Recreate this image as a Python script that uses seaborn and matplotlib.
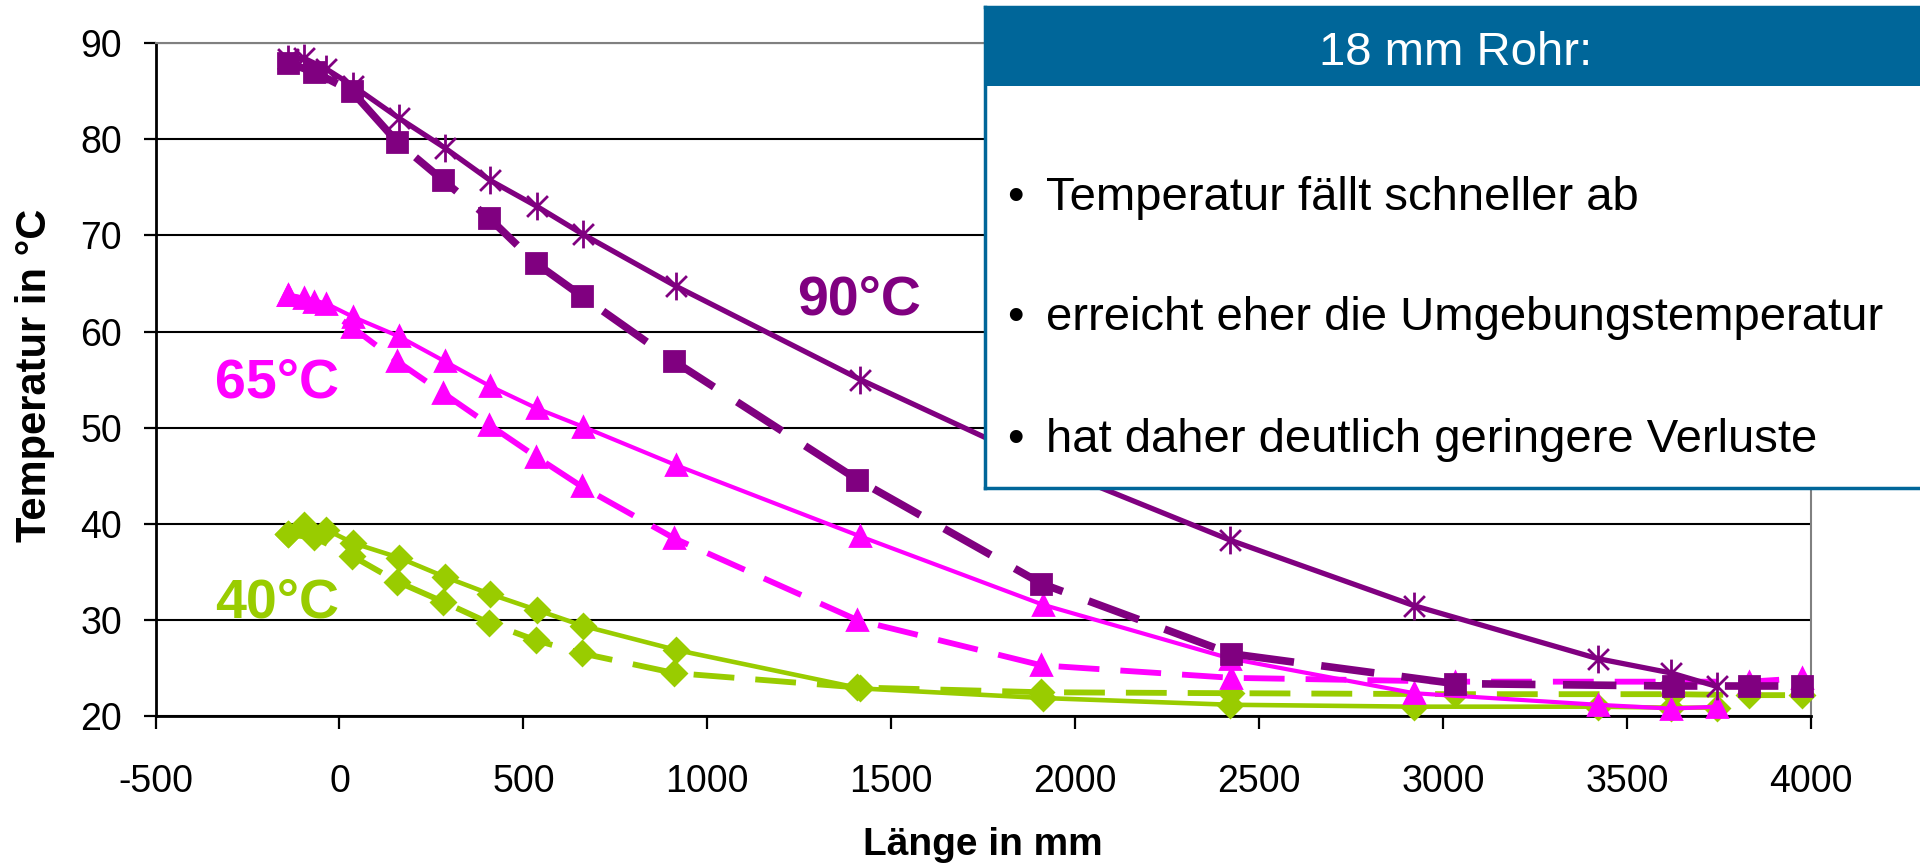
import matplotlib
matplotlib.use("Agg")
import matplotlib.pyplot as plt
from matplotlib.path import Path
from matplotlib.patches import Rectangle
import seaborn as sns

# --- DATA ---
X_SOLID = [-140, -96, -36, 38, 161, 286, 410, 537, 662, 915, 1416, 1912, 2422, 2921, 3420, 3620, 3744]
X_DASHED = [-140, -70, 33, 157, 282, 407, 534, 658, 910, 1408, 1908, 2424, 3032, 3625, 3832, 3976]

T90_SOLID = [88.3, 88.4, 87.3, 85.5, 82.2, 79.1, 75.7, 73.0, 70.1, 64.7, 55.0, 46.2, 38.3, 31.5, 26.0, 24.5, 23.1]
T65_SOLID = [63.8, 63.5, 62.9, 61.5, 59.5, 56.9, 54.3, 52.0, 50.1, 46.1, 38.7, 31.6, 26.0, 22.4, 21.2, 20.8, 21.0]
T40_SOLID = [39.0, 39.9, 39.4, 38.0, 36.5, 34.5, 32.7, 31.05, 29.4, 26.9, 22.9, 21.9, 21.2, 21.0, 21.0, 20.9, 20.9]

T90_DASHED = [87.9, 87.0, 85.0, 79.7, 75.7, 71.8, 67.1, 63.7, 56.9, 44.6, 33.8, 26.5, 23.4, 23.15, 23.15, 23.15]
T65_DASHED = [63.8, 63.1, 60.5, 56.9, 53.6, 50.3, 47.0, 43.9, 38.5, 30.0, 25.3, 24.0, 23.6, 23.6, 23.6, 23.95]
T40_DASHED = [38.9, 38.6, 36.7, 34.0, 31.9, 29.7, 27.9, 26.55, 24.5, 23.0, 22.5, 22.4, 22.3, 22.3, 22.2, 22.2]

X_TICKS = list(range(-500, 4001, 500))
Y_TICKS = list(range(20, 91, 10))

BOX_TITLE = "18 mm Rohr:"
BOX_LINES = ["Temperatur fällt schneller ab",
             "erreicht eher die Umgebungstemperatur",
             "hat daher deutlich geringere Verluste"]

PURPLE = "#800080"
MAGENTA = "#FF00FF"
GREEN = "#99CC00"
BLUE = "#006699"

W, H = 1920, 867

# asterisk marker like Excel's (x plus vertical bar)
STAR = Path([(0, -1), (0, 1), (-0.75, -0.75), (0.75, 0.75), (-0.75, 0.75), (0.75, -0.75)],
            [Path.MOVETO, Path.LINETO] * 3)
DASH = (0, (7, 3.6))

sns.set_style("ticks")
plt.rcParams['font.family'] = ['Liberation Sans', 'DejaVu Sans']
plt.rcParams['axes.unicode_minus'] = False
plt.rcParams['text.color'] = "black"

fig = plt.figure(figsize=(W / 100, H / 100), dpi=100)
ax = fig.add_axes([155.5 / W, 1 - 716.3 / H, (1811 - 155.5) / W, (716.3 - 42.9) / H])

series = [
    (X_SOLID, T40_SOLID, GREEN, "D", 12.5, "-", 3.3),
    (X_DASHED, T40_DASHED, GREEN, "D", 12.5, DASH, 4.2),
    (X_SOLID, T65_SOLID, MAGENTA, "^", 15, "-", 3.0),
    (X_DASHED, T65_DASHED, MAGENTA, "^", 15, DASH, 4.2),
    (X_SOLID, T90_SOLID, PURPLE, STAR, 20, "-", 3.8),
    (X_DASHED, T90_DASHED, PURPLE, "s", 14, DASH, 5.5),
]
for xs, ys, c, m, ms, ls, lw in series:
    sns.lineplot(x=xs, y=ys, ax=ax, color=c, marker=m, markersize=ms,
                 linestyle=ls, linewidth=lw, mec=c, mfc=c, mew=2.0,
                 sort=False, estimator=None, clip_on=False, zorder=3)

ax.set_xlim(-500, 4000)
ax.set_ylim(20, 90)
ax.set_xticks(X_TICKS)
ax.set_yticks(Y_TICKS)
ax.yaxis.grid(True, color="black", lw=1.5)
ax.set_axisbelow(True)
for s in ["left", "bottom"]:
    ax.spines[s].set_color("black")
    ax.spines[s].set_linewidth(2)
for s in ["top", "right"]:
    ax.spines[s].set_visible(True)
    ax.spines[s].set_color("#808080")
    ax.spines[s].set_linewidth(1.5)
ax.tick_params(axis="both", direction="out", length=9, width=1.6, color="black",
               labelsize=27, labelcolor="black")
ax.tick_params(axis="x", pad=25)
ax.tick_params(axis="y", pad=15)
ax.set_xlabel("")
ax.set_ylabel("")

# curve labels
ax.text(1244, 61.8, "90°C", color=PURPLE, fontsize=40, fontweight="bold", va="baseline", ha="left")
ax.text(-339, 53.1, "65°C", color=MAGENTA, fontsize=40, fontweight="bold", va="baseline", ha="left")
ax.text(-339, 30.3, "40°C", color=GREEN, fontsize=40, fontweight="bold", va="baseline", ha="left")

# axis titles
fig.text(983 / W, 1 - 855 / H, "Länge in mm", fontsize=28, fontweight="bold", ha="center",
         va="baseline", color="black")
fig.text(35 / W, 1 - 375 / H, "Temperatur in °C", fontsize=30, fontweight="bold",
         rotation=90, ha="center", va="center", color="black")

# info box
bx = fig.add_axes([985 / W, 1 - 488 / H, 945 / W, (488 - 7) / H])
bx.set_facecolor("white")
bx.set_xticks([])
bx.set_yticks([])
for s in bx.spines.values():
    s.set_color(BLUE)
    s.set_linewidth(2.5)
head_h = (86 - 7) / (488 - 7)
bx.add_patch(Rectangle((0, 1 - head_h), 1, head_h, transform=bx.transAxes, color=BLUE, lw=0))
bx.text((1456 - 985) / 945, 1 - (65 - 7) / 481, BOX_TITLE, color="white", fontsize=34,
        ha="center", va="baseline", transform=bx.transAxes)
for base, line in zip([210, 330, 452], BOX_LINES):
    yy = 1 - (base - 7) / 481
    bx.text((1007 - 985) / 945, yy, "•", fontsize=34, ha="left", va="baseline",
            transform=bx.transAxes, color="black")
    bx.text((1046 - 985) / 945, yy, line, fontsize=34, ha="left", va="baseline",
            transform=bx.transAxes, color="black")

fig.savefig("out.png", dpi=100)
